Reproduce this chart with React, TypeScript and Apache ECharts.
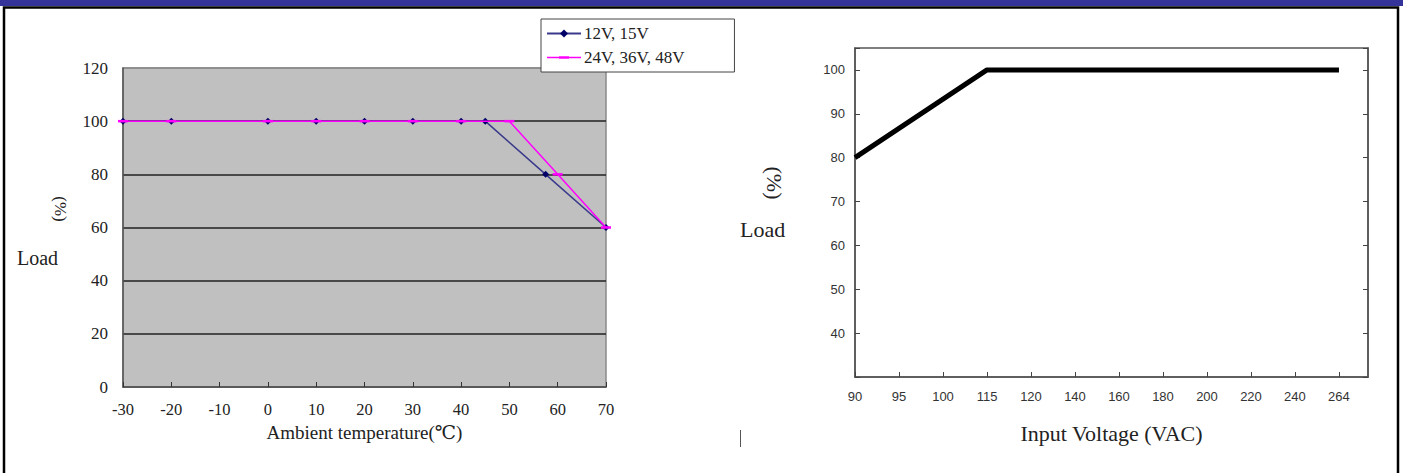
import React, { useEffect, useRef } from "react";
import * as echarts from "echarts";

// Left chart: derating vs ambient temperature
const tempA: number[] = [-30, -20, 0, 10, 20, 30, 40, 45, 57.5, 70];
const loadA: number[] = [100, 100, 100, 100, 100, 100, 100, 100, 80, 60];
const tempB: number[] = [-30, -20, 0, 10, 20, 30, 40, 50, 60, 70];
const loadB: number[] = [100, 100, 100, 100, 100, 100, 100, 100, 80, 60];
const seriesNames: string[] = ["12V, 15V", "24V, 36V, 48V"];

// Right chart: derating vs input voltage
const voltCategories: string[] = ["90", "95", "100", "115", "120", "140", "160", "180", "200", "220", "240", "264"];
const curveVolts: string[] = ["90", "115", "264"];
const curveLoad: number[] = [80, 100, 100];

const SERIF = "'Liberation Serif', 'DejaVu Serif', serif";
const SANS = "'Liberation Sans', Arial, sans-serif";

export default function App() {
  const ref = useRef<HTMLDivElement>(null);
  useEffect(() => {
    if (!ref.current) return;
    const chart = echarts.init(ref.current, undefined, { renderer: "svg" });
    const dataA = tempA.map((t, i) => [t, loadA[i]]);
    const dataB = tempB.map((t, i) => [t, loadB[i]]);
    const dataV = curveVolts.map((v, i) => [voltCategories.indexOf(v), curveLoad[i]]);
    const xMaxRight = 11.66;

    chart.setOption({
      animation: false,
      backgroundColor: "#ffffff",
      legend: {
        show: true,
        orient: "vertical",
        left: 541,
        top: 19,
        padding: [6, 50, 6, 5],
        itemGap: 7,
        itemWidth: 34,
        itemHeight: 10,
        backgroundColor: "#ffffff",
        borderColor: "#444444",
        borderWidth: 1,
        borderRadius: 0,
        textStyle: { fontFamily: SERIF, fontSize: 17, color: "#222222", padding: [0, 0, 0, -2] },
        data: [
          { name: seriesNames[0] },
          {
            name: seriesNames[1],
            icon: "path://M0,0L0.01,0L0.01,0.01Z M0,10L0.01,10L0.01,9.99Z M0,4.3L34,4.3L34,5.7L0,5.7Z M12,3.8L22,3.8L22,6.2L12,6.2Z",
          },
        ],
      },
      grid: [
        {
          left: 123, top: 68, width: 483, height: 319,
          show: true, backgroundColor: "#c0c0c0", borderColor: "#8a8a8a", borderWidth: 1.5,
        },
        {
          left: 855, top: 48, width: 513, height: 329,
          show: true, backgroundColor: "#ffffff", borderColor: "#555555", borderWidth: 1.5,
        },
      ],
      xAxis: [
        {
          gridIndex: 0, type: "value", min: -30, max: 70, interval: 10,
          name: "Ambient temperature(\u2103)", nameLocation: "middle", nameGap: 35,
          nameTextStyle: { fontFamily: SERIF, fontSize: 19, color: "#222222" },
          axisLine: { show: true, onZero: false, lineStyle: { color: "#555555", width: 1.5 } },
          axisTick: { show: true, inside: true, length: 5, lineStyle: { color: "#333333" } },
          axisLabel: { fontFamily: SERIF, fontSize: 16.5, color: "#222222", margin: 14 },
          splitLine: { show: false },
        },
        {
          gridIndex: 1, type: "value", min: 0, max: xMaxRight, interval: 1,
          name: "Input Voltage (VAC)", nameLocation: "middle", nameGap: 45,
          nameTextStyle: { fontFamily: SERIF, fontSize: 22, color: "#222222" },
          axisLine: { show: true, onZero: false, lineStyle: { color: "#555555", width: 1.5 } },
          axisTick: { show: true, inside: true, length: 5, lineStyle: { color: "#444444" } },
          axisLabel: {
            fontFamily: SANS, fontSize: 13, color: "#333333", margin: 13,
            showMaxLabel: false,
            formatter: (v: number) => (Number.isInteger(v) && voltCategories[v] ? voltCategories[v] : ""),
          },
          splitLine: { show: false },
        },
      ],
      yAxis: [
        {
          gridIndex: 0, type: "value", min: 0, max: 120, interval: 20,
          axisLine: { show: true, onZero: false, lineStyle: { color: "#555555", width: 1.5 } },
          axisTick: { show: false },
          axisLabel: { fontFamily: SERIF, fontSize: 17, color: "#222222", margin: 15 },
          splitLine: {
            show: true,
            lineStyle: { color: ["#555555", "#222222", "#222222", "#222222", "#222222", "#222222", "#8a8a8a"], width: 1.5 },
          },
        },
        {
          gridIndex: 1, type: "value", min: 30, max: 105, interval: 10,
          axisLine: { show: true, onZero: false, lineStyle: { color: "#555555", width: 1.5 } },
          axisTick: { show: true, inside: true, length: 5, lineStyle: { color: "#444444" } },
          axisLabel: {
            fontFamily: SANS, fontSize: 13, color: "#333333", margin: 10,
            formatter: (v: number) => (v >= 40 && v <= 100 ? String(v) : ""),
          },
          splitLine: { show: false },
        },
        {
          gridIndex: 1, type: "value", min: 30, max: 105, interval: 10, position: "right",
          axisLine: { show: true, onZero: false, lineStyle: { color: "#555555", width: 1.5 } },
          axisTick: { show: true, inside: true, length: 5, lineStyle: { color: "#444444" } },
          axisLabel: { show: false },
          splitLine: { show: false },
        },
      ],
      series: [
        {
          name: seriesNames[0], type: "line", xAxisIndex: 0, yAxisIndex: 0,
          data: dataA, symbol: "diamond", symbolSize: 7, showSymbol: true,
          lineStyle: { color: "#3a3a8c", width: 1.5 },
          itemStyle: { color: "#000066", borderWidth: 0 },
          z: 2,
        },
        {
          name: seriesNames[1], type: "line", xAxisIndex: 0, yAxisIndex: 0,
          data: dataB, symbol: "rect", symbolSize: [10, 2.5], showSymbol: true,
          lineStyle: { color: "#ff00ff", width: 1.5 },
          itemStyle: { color: "#ff00ff", borderWidth: 0 },
          z: 3,
        },
        {
          name: "Derating", type: "line", xAxisIndex: 1, yAxisIndex: 1,
          data: dataV, showSymbol: false, symbol: "none",
          lineStyle: { color: "#000000", width: 5 },
          z: 3,
        },
      ],
      graphic: [
        { type: "rect", shape: { x: 0, y: 0, width: 1403, height: 6 }, style: { fill: "#333399" }, silent: true },
        {
          type: "rect", shape: { x: 4, y: 7.5, width: 1394, height: 480 },
          style: { fill: "none", stroke: "#000000", lineWidth: 2.5 }, silent: true,
        },
        { type: "text", x: 17, y: 258, style: { text: "Load", fontFamily: SERIF, fontSize: 20, fill: "#222222", verticalAlign: "middle" } },
        {
          type: "text", x: 60, y: 209, rotation: -Math.PI / 2,
          style: { text: "(%)", fontFamily: SERIF, fontSize: 17, fill: "#222222", align: "center", verticalAlign: "middle" },
        },
        { type: "text", x: 740, y: 229, style: { text: "Load", fontFamily: SERIF, fontSize: 22, fill: "#222222", verticalAlign: "middle" } },
        {
          type: "text", x: 774, y: 183, rotation: -Math.PI / 2,
          style: { text: "(%)", fontFamily: SERIF, fontSize: 22, fill: "#222222", align: "center", verticalAlign: "middle" },
        },
        { type: "line", shape: { x1: 740.5, y1: 430, x2: 740.5, y2: 447 }, style: { stroke: "#555555", lineWidth: 1 } },
      ],
    });
    return () => chart.dispose();
  }, []);
  return <div ref={ref} style={{ position: "absolute", left: 0, top: 0, width: 1403, height: 473 }} />;
}
